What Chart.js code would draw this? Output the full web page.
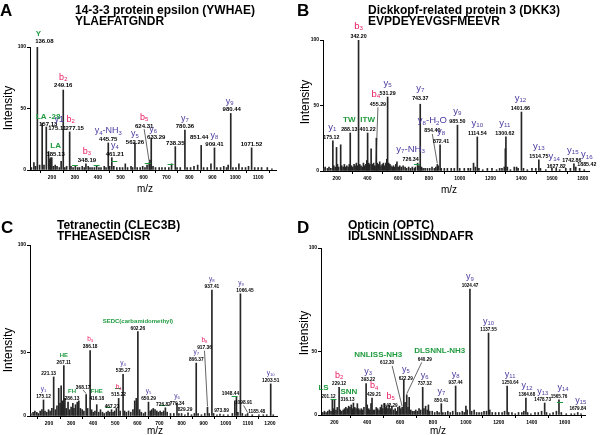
<!DOCTYPE html>
<html>
<head>
<meta charset="utf-8">
<script src="https://cdn.jsdelivr.net/npm/chart.js@4.4.1/dist/chart.umd.min.js"></script>
<style>
  body { margin: 0; background: #fff; width: 600px; height: 435px; overflow: hidden; position: relative;
         font-family: "Liberation Sans", Arial, Helvetica, sans-serif; color: #000; }
  canvas { position: absolute; }
  .letter { position: absolute; font-weight: bold; font-size: 17px; line-height: 17px; z-index: 2; }
  .title { position: absolute; font-weight: bold; font-size: 12px; line-height: 10.5px; white-space: nowrap; z-index: 2; }
  .ytitle { position: absolute; font-size: 12px; white-space: nowrap; transform: translate(-50%, -50%) rotate(-90deg); z-index: 2; }
  .xtitle { position: absolute; font-size: 10px; white-space: nowrap; transform: translate(-50%, -50%); z-index: 2; }
</style>
</head>
<body>
<canvas id="cA" width="300" height="217" style="left:0;top:0"></canvas>
<canvas id="cB" width="300" height="217" style="left:300px;top:0"></canvas>
<canvas id="cC" width="300" height="218" style="left:0;top:217px"></canvas>
<canvas id="cD" width="300" height="218" style="left:300px;top:217px"></canvas>

<div class="letter" style="left:0;top:2px">A</div>
<div class="title" style="left:75px;top:5px">14-3-3 protein epsilon (YWHAE)<br>YLAEFATGNDR</div>
<div class="letter" style="left:297px;top:2px">B</div>
<div class="title" style="left:368px;top:5px">Dickkopf-related protein 3 (DKK3)<br>EVPDEYEVGSFMEEVR</div>
<div class="letter" style="left:1px;top:219px">C</div>
<div class="title" style="left:57px;top:220px">Tetranectin (CLEC3B)<br>TFHEASEDCISR</div>
<div class="letter" style="left:297px;top:219px">D</div>
<div class="title" style="left:348px;top:220px">Opticin (OPTC)<br>IDLSNNLISSIDNDAFR</div>

<div class="ytitle" style="left:8px;top:108px">Intensity</div>
<div class="ytitle" style="left:305px;top:102px">Intensity</div>
<div class="ytitle" style="left:8px;top:350px">Intensity</div>
<div class="ytitle" style="left:304px;top:333px">Intensity</div>
<div class="xtitle" style="left:145px;top:188px">m/z</div>
<div class="xtitle" style="left:449px;top:189px">m/z</div>
<div class="xtitle" style="left:155px;top:430px">m/z</div>
<div class="xtitle" style="left:438px;top:430px">m/z</div>

<script>
// ---- data: [m/z, relative intensity] ----
const peaksA = [[110,2],[121,6],[128,3],[136.08,100],[146,4],[157.13,38],[165,4],[175.11,35],[185.13,15],[190,9],[194,10],[199,10],[206,3],[214,4],[222,3],[232,2],[240,7],[249.16,65],[256,2],[264,3],[277.15,31],[283,3],[292,2],[302,3],[312,2],[320,2],[332,3],[341,2],[348.19,5],[358,3],[366,2],[375,2],[385,2],[395,3],[405,2],[414,2],[428,3],[436,2],[445.75,22],[452,3],[461.21,10],[470,3],[483,2],[496,2],[508,2],[520,5],[530,2],[545,3],[552,2],[562.26,22],[572,2],[585,2],[596,3],[606,2],[615,4],[624.31,6],[628,8],[633.29,26],[641,3],[652,2],[668,2],[680,2],[694,2],[710,2],[722,5],[738.35,19],[746,2],[760,2],[780.36,32.5],[790,2],[805,2],[820,3],[836,4],[851.44,20],[862,2],[878,2],[894,5],[909.41,18],[920,2],[936,2],[950,3],[962,2],[969,4],[980.44,46],[990,2],[1003,2],[1016,5],[1030,2],[1045,2],[1058,3],[1071.52,18],[1085,2],[1100,2],[1115,2],[1140,2],[1160,1]];
const labelsA = [[136.08,'Y','g'],[157.13,'LA -28','g'],[175.11,'y1','y'],[185.13,'LA','g'],[249.16,'b_2','b'],[277.15,'b_2','b'],[348.19,'b_3','b'],[445.75,'y_4-NH_3','y'],[461.21,'y_4','y'],[562.26,'y_5','y'],[624.31,'b_5','b'],[633.29,'y_6','y'],[738.35,'',''],[780.36,'y_7','y'],[851.44,'',''],[909.41,'y_8','y'],[980.44,'y_9','y'],[1071.52,'','']];
const marksA = [[300,4],[395,4],[472,7],[618,6],[718,5]];
const xTicksA = [200, 300, 400, 500, 600, 700, 800, 900, 1000, 1100];

const peaksB = [[115,2],[125,3],[140,2],[150,3],[162,2],[175.12,23],[181,4],[190,3],[199,18],[205,5],[213,3],[226,20],[233,4],[242,3],[250,5],[258,3],[266,4],[275,3],[282,5],[288.13,29],[296,4],[305,3],[313,5],[320,4],[328,6],[335,4],[342.20,100],[350,5],[358,4],[366,3],[374,6],[382,4],[390,5],[396,8],[401.22,29],[408,6],[415,5],[424,17],[432,5],[440,6],[447,4],[455.29,4],[458,25],[464,6],[472,5],[480,7],[488,4],[496,5],[504,6],[512,4],[520,6],[526,9],[531.29,56.5],[538,6],[546,5],[553,4],[561,3],[569,4],[577,3],[585,5],[592,7],[600,3],[610,4],[620,3],[632,4],[645,3],[655,2],[668,3],[680,2],[692,3],[705,2],[712,3],[726.34,6],[735,4],[743.37,51],[752,3],[762,2],[775,2],[790,2],[805,2],[820,3],[835,2],[845,3],[854.40,5],[860,4],[872.41,20],[880,2],[900,2],[920,2],[945,2],[965,2],[985.50,35],[1000,2],[1030,2],[1055,2],[1070,2],[1090,6],[1102,3],[1114.54,26],[1125,2],[1150,1],[1180,2],[1210,2],[1240,1],[1260,2],[1275,2],[1290,3],[1297,17],[1300.62,26],[1310,3],[1330,1],[1355,3],[1370,3],[1380,2],[1401.66,45],[1415,2],[1440,1],[1470,2],[1495,2],[1514.75,8.5],[1525,2],[1560,1],[1600,2],[1627.82,2],[1650,1],[1690,2],[1720,2],[1742.86,5.5],[1755,3],[1780,2],[1810,1],[1885.42,2]];
const labelsB = [[175.12,'y_1','y'],[288.13,'TW','g'],[342.20,'b_3','b'],[401.22,'ITW','g'],[455.29,'b_4','b'],[531.29,'y_5','y'],[726.34,'y_7-NH_3','y'],[743.37,'y_7','y'],[854.40,'y_8-H_2O','y'],[872.41,'y_8','y'],[985.50,'y_9','y'],[1114.54,'y_10','y'],[1300.62,'y_11','y'],[1401.66,'y_12','y'],[1514.75,'y_13','y'],[1627.82,'y_14','y'],[1742.86,'y_15','y'],[1885.42,'y_16','y']];
const marksB = [[722,5]];
const xTicksB = [200, 400, 600, 800, 1000, 1200, 1400, 1600, 1800];

const peaksC = [[118,2],[128,3],[136,4],[145,3],[152,2],[160,4],[168,5],[175.12,12.7],[182,4],[190,3],[198,5],[205,4],[213,6],[221.13,31],[229,5],[236,8],[244,22],[250,10],[255,24],[260,12],[267.11,40],[272,14],[278,6],[286.13,11],[293,5],[300,7],[308,10],[313,6],[320,9],[328,11],[335,12],[342,6],[350,5],[358,4],[368.17,17],[375,6],[386.18,52],[393,5],[400,3],[408,4],[416.18,9],[425,3],[433,5],[442,3],[450,2],[460,3],[467.23,4],[475,3],[483,5],[490,3],[497,4],[505,6],[515.22,14],[522,4],[535.27,33],[542,4],[550,3],[560,4],[570,3],[580,5],[588,12],[595,14],[602.26,67],[610,5],[618,3],[628,2],[636,3],[650.29,11],[658,4],[665,5],[672,6],[680,5],[688,4],[695,3],[703,4],[711,3],[719,4],[726.82,6.5],[735,3],[750,2],[765,2],[779.34,10],[788,2],[800,2],[815,1],[829.29,2.5],[845,1],[858,2],[866.37,42],[875,2],[890,1],[905,2],[917.36,7],[925,2],[937.41,100],[945,2],[960,1],[973.89,1.5],[990,1],[1010,1],[1030,2],[1041,12],[1048.44,15],[1055,3],[1066.45,97],[1075,2],[1090,1],[1098.91,2],[1120,1],[1150,1],[1170,1],[1185.48,1],[1203.51,25.5],[1215,1]];
const labelsC = [[175.12,'y_1','y'],[221.13,'',''],[267.11,'HE','g'],[286.13,'FH','g'],[368.17,'',''],[386.18,'b_3','b'],[416.18,'FHE','g'],[467.23,'',''],[515.22,'b_4','b'],[535.27,'y_4','y'],[602.26,'SEDC(carbamidomethyl)','g'],[650.29,'y_5','y'],[726.82,'',''],[779.34,'y_6','y'],[829.29,'',''],[866.37,'y_7','y'],[917.36,'b_8','b'],[937.41,'y_8','y'],[973.89,'',''],[1048.44,'',''],[1066.45,'y_9','y'],[1098.91,'',''],[1185.48,'',''],[1203.51,'y_10','y']];
const marksC = [[468,7],[512,22],[715,9],[1040,16]];
const xTicksC = [200, 300, 400, 500, 600, 700, 800, 900, 1000, 1100, 1200];

const peaksD = [[130,2],[140,3],[150,2],[160,3],[170,4],[180,3],[188,12],[194,5],[201.12,12],[210,4],[218,6],[229.12,22],[236,4],[245,3],[254,4],[262,5],[270,6],[278,5],[287,7],[295,6],[303,8],[310,5],[316.13,9.5],[324,6],[332,5],[340,9],[348,5],[356,4],[364,5],[372,4],[380,6],[393.22,25],[400,8],[409,5],[416,4],[423,9],[429.21,13.5],[436,4],[445,4],[455,6],[463,5],[472,4],[480,6],[488,8],[495,5],[503,9],[510,6],[518,7],[526,5],[533,8],[542.29,5],[550,7],[560,4],[570,5],[578,3],[586,6],[596,7],[604,5],[612.30,6],[622.29,28],[630,10],[640.29,16],[648,6],[655,14],[665,4],[675,3],[685,3],[695,4],[705,3],[715,5],[725,4],[737.32,22],[745,5],[755,7],[765,4],[772,8],[780,3],[795,3],[810,2],[825,3],[837,2],[850.41,9],[860,2],[875,2],[890,3],[905,2],[920,3],[937.44,23],[948,2],[962,2],[978,3],[990,2],[1000,7],[1008,4],[1024.47,100],[1035,3],[1050,4],[1065,2],[1080,2],[1095,2],[1110,3],[1125,3],[1137.55,65],[1145,4],[1160,2],[1180,2],[1200,2],[1220,2],[1235,3],[1250.64,23],[1260,2],[1280,2],[1300,1],[1320,2],[1340,2],[1352,3],[1364.68,13.5],[1375,2],[1395,1],[1420,2],[1440,2],[1460,3],[1478.73,9.5],[1490,2],[1510,1],[1530,2],[1550,3],[1565.76,12],[1580,2],[1610,1],[1640,1],[1660,1],[1679.84,2],[1700,1]];
const labelsD = [[201.12,'LS','g'],[229.12,'b_2','b'],[316.13,'SNN','g'],[393.22,'y_3','y'],[429.21,'b_4','b'],[542.29,'b_5','b'],[612.30,'NNLISS-NH3','g'],[622.29,'y_5','y'],[640.29,'DLSNNL-NH3','g'],[737.32,'y_6','y'],[850.41,'y_7','y'],[937.44,'y_8','y'],[1024.47,'y_9','y'],[1137.55,'y_10','y'],[1250.64,'y_11','y'],[1364.68,'y_12','y'],[1478.73,'y_13','y'],[1565.76,'y_14','y'],[1679.84,'y_15','y']];
const marksD = [[195,13],[1572,10]];
const xTicksD = [200, 400, 600, 800, 1000, 1200, 1400, 1600];

const yTickLabels = ['0', '50', '100'];

// ---- label placement (pixel nudges, leader lines) ----
const layoutA = {'136.08':{dx:7,dy:-2,ix:-6},'157.13':{dx:6,dy:5},'175.11':{dx:11,dy:5,ix:2},'185.13':{dx:7,dy:6},
  '249.16':{dy:-1},'277.15':{dx:5,ix:-4},'348.19':{dx:1},'461.21':{dx:3},'562.26':{dy:3},
  '624.31':{dx:-5,dy:-33,lead:true},'633.29':{dx:5,dy:3,ix:-3},'851.44':{dx:-2,dy:-4},'980.44':{dx:1,ix:-2}};
const layoutB = {'175.12':{dx:-1.5,ix:1},'288.13':{dx:-1},'455.29':{dx:2,dy:-58,ix:-2,lead:true},
  '726.34':{dx:-7},'743.37':{dy:-2},'854.40':{dx:-5,dy:-30,lead:true},'872.41':{dx:1},'1300.62':{dx:-1},
  '1401.66':{dx:-1},'1627.82':{dy:2,ix:-2},'1742.86':{dx:-2,ix:1},'1885.42':{dx:-9}};
const layoutC = {'221.13':{dx:-5},'286.13':{dx:4},'368.17':{dx:-3,dy:-4,lead:true},'416.18':{dy:-3},
  '467.23':{dx:4,dy:-1},'726.82':{dx:-2},'779.34':{dy:4},'829.29':{dx:-3},'917.36':{dx:-3,dy:-56,lead:true},
  '973.89':{dx:1.5},'1048.44':{dx:-6},'1066.45':{dx:4.6,ix:-4},'1098.91':{dx:-4,dy:-7.5,lead:true},'1185.48':{dx:-10}};
const layoutD = {'201.12':{dx:-6,ix:-5},'316.13':{dx:-6,ix:1.5},'393.22':{dx:2},'429.21':{dx:2},
  '612.30':{dx:-15,dy:-41,ix:-9,lx:5,lead:true},'622.29':{dx:2,dy:2},'640.29':{dx:18,dy:-32,ix:15,lx:-3,lead:true},
  '737.32':{dx:2},'1250.64':{dx:3},'1364.68':{dx:1},'1478.73':{dx:-2},'1565.76':{ix:4},'1679.84':{ix:3}};

const FAM = '"Liberation Sans", Arial, Helvetica, sans-serif';
const typeColors = { y: '#4b3a9f', b: '#e8185c', g: '#1f9b3f' };
Chart.defaults.font.family = FAM;

function drawIon(ctx, text, cx, base, size, bold, color) {
  const parts = text.split(/_(\d+)/);
  const w = bold ? 'bold ' : '';
  const fMain = w + size + 'px ' + FAM;
  const fSub = w + (size * 0.65).toFixed(2) + 'px ' + FAM;
  let total = 0;
  parts.forEach((s, i) => { ctx.font = i % 2 ? fSub : fMain; total += ctx.measureText(s).width; });
  let x = cx - total / 2;
  ctx.fillStyle = color;
  ctx.textAlign = 'left';
  parts.forEach((s, i) => {
    ctx.font = i % 2 ? fSub : fMain;
    ctx.fillText(s, x, base + (i % 2 ? size * 0.12 : 0));
    x += ctx.measureText(s).width;
  });
}

function intensityAt(peaks, mz) {
  let best = peaks[0];
  peaks.forEach(p => { if (Math.abs(p[0] - mz) < Math.abs(best[0] - mz)) best = p; });
  return best[1];
}

function labelPlugin(p) {
  return {
    id: 'peakLabels',
    afterDatasetsDraw(chart) {
      const ctx = chart.ctx, xs = chart.scales.x, ys = chart.scales.y;
      ctx.save();
      ctx.textBaseline = 'alphabetic';
      ctx.strokeStyle = typeColors.g;
      ctx.lineWidth = 1;
      p.marks.forEach(([m, v]) => {
        const px = xs.getPixelForValue(m), py = Math.round(ys.getPixelForValue(v)) + 0.5;
        ctx.beginPath(); ctx.moveTo(px - 3, py); ctx.lineTo(px + 3, py); ctx.stroke();
      });
      p.labels.forEach(([mz, ion, type]) => {
        const L = p.layout[mz.toFixed(2)] || {};
        const v = intensityAt(p.peaks, mz);
        const px = xs.getPixelForValue(mz), py = ys.getPixelForValue(v);
        const vx = px + (L.dx || 0), vb = py - 2 + (L.dy || 0);
        ctx.font = 'bold ' + p.valueSize + 'px ' + FAM;
        ctx.fillStyle = '#000';
        ctx.textAlign = 'center';
        ctx.fillText(mz.toFixed(2), vx, vb);
        if (ion) {
          const g = type === 'g';
          drawIon(ctx, ion, vx + (L.ix || 0), vb - p.ionGap, g ? p.greenSize : p.ionSize, g, typeColors[type]);
        }
        if (L.lead) {
          ctx.strokeStyle = '#222';
          ctx.lineWidth = 0.7;
          ctx.beginPath();
          ctx.moveTo(vx + (L.lx || 0), vb + 1.5);
          ctx.lineTo(px, py - 1);
          ctx.stroke();
        }
      });
      ctx.restore();
    }
  };
}

function makePanel(id, p) {
  const canvas = document.getElementById(id);
  const tickFont = { size: 5, weight: 'bold', family: FAM };
  const axisGrid = { drawOnChartArea: false, drawTicks: true, tickLength: 3, color: '#000', lineWidth: 1 };
  const axisBorder = { display: true, color: '#000', width: 1 };
  const yVals = [0, 50, p.yMax];
  return new Chart(canvas, {
    type: 'bar',
    data: {
      datasets: [{
        data: p.peaks.map(([m, v]) => ({ x: m, y: v })),
        backgroundColor: '#262626',
        barThickness: 1
      }]
    },
    options: {
      responsive: false,
      animation: false,
      events: [],
      layout: {
        autoPadding: false,
        padding: { left: 0, top: p.area.top, right: canvas.width - p.area.right, bottom: canvas.height - p.area.bottom - 20 }
      },
      plugins: { legend: { display: false }, tooltip: { enabled: false } },
      scales: {
        x: {
          type: 'linear', min: p.xMin, max: p.xMax, offset: false,
          afterFit: s => { s.height = 20; },
          afterBuildTicks: s => { s.ticks = p.xTicks.map(v => ({ value: v })); },
          ticks: { callback: v => String(v), font: tickFont, color: '#000', padding: 2, maxRotation: 0, autoSkip: false },
          grid: axisGrid, border: axisBorder
        },
        y: {
          min: 0, max: p.yMax,
          afterFit: s => { s.width = p.area.left; },
          afterBuildTicks: s => { s.ticks = yVals.map(v => ({ value: v })); },
          ticks: { callback: (v, i) => yTickLabels[i], font: tickFont, color: '#000', padding: 1, autoSkip: false },
          grid: axisGrid, border: axisBorder
        }
      }
    },
    plugins: [labelPlugin(p)]
  });
}

makePanel('cA', { peaks: peaksA, labels: labelsA, marks: marksA, layout: layoutA, xTicks: xTicksA,
  area: { left: 30, right: 276, top: 47, bottom: 170 }, xMin: 104, xMax: 1178, yMax: 100,
  valueSize: 6, ionSize: 9, greenSize: 8, ionGap: 7.5 });
makePanel('cB', { peaks: peaksB, labels: labelsB, marks: marksB, layout: layoutB, xTicks: xTicksB,
  area: { left: 23, right: 289, top: 40, bottom: 171 }, xMin: 111, xMax: 1841, yMax: 100,
  valueSize: 5.3, ionSize: 9.5, greenSize: 8, ionGap: 9 });
makePanel('cC', { peaks: peaksC, labels: labelsC, marks: marksC, layout: layoutC, xTicks: xTicksC,
  area: { left: 30, right: 277, top: 28, bottom: 199 }, xMin: 114, xMax: 1232, yMax: 135.7,
  valueSize: 4.8, ionSize: 6.5, greenSize: 6, ionGap: 7 });
makePanel('cD', { peaks: peaksD, labels: labelsD, marks: marksD, layout: layoutD, xTicks: xTicksD,
  area: { left: 21, right: 285, top: 31, bottom: 198 }, xMin: 119, xMax: 1724, yMax: 132.5,
  valueSize: 4.6, ionSize: 9, greenSize: 8, ionGap: 7.5 });
</script>
</body>
</html>
